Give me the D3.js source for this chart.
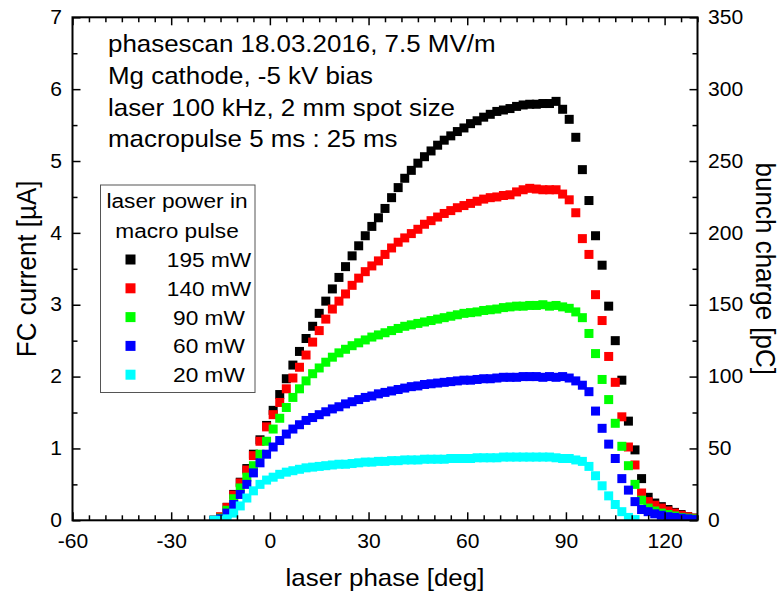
<!DOCTYPE html>
<meta charset="utf-8">
<script src="https://d3js.org/d3.v7.min.js"></script>
<style>
  body { margin: 0; background: #fff; }
  svg text { font-family: "Liberation Sans", Arial, sans-serif; fill: #000; }
</style>
<div id="my_dataviz"></div>
<script>

// laser phase [deg] of each measured point
var phase = [-17, -15, -13, -11, -9, -7, -5, -3, -1,
  1, 3, 5, 7, 9, 11, 13, 15, 17, 19, 21, 23, 25, 27, 29,
  31, 33, 35, 37, 39, 41, 43, 45, 47, 49, 51, 53, 55, 57, 59,
  61, 63, 65, 67, 69, 71, 73, 75, 77, 79, 81, 83, 85, 87, 89,
  91, 93, 95, 97, 99, 101, 103, 105, 107, 109, 111, 113, 115, 117, 119,
  121, 123, 125, 127, 129];

// FC current [uA] for each laser power
var fc195 = [0.00, 0.04, 0.18, 0.36, 0.53, 0.72, 0.92, 1.12, 1.32,
  1.53, 1.75, 1.97, 2.16, 2.35, 2.53, 2.70, 2.88, 3.05, 3.22, 3.38, 3.53, 3.68, 3.82, 3.96,
  4.09, 4.21, 4.34, 4.49, 4.63, 4.76, 4.87, 4.97, 5.06, 5.14, 5.22, 5.29, 5.35, 5.41, 5.46,
  5.52, 5.56, 5.61, 5.65, 5.69, 5.71, 5.73, 5.76, 5.78, 5.79, 5.79, 5.80, 5.80, 5.83, 5.72,
  5.58, 5.33, 4.88, 4.45, 3.96, 3.55, 2.98, 2.50, 1.95, 1.38, 0.98, 0.58, 0.32, 0.24, 0.19,
  0.15, 0.11, 0.08, 0.05, 0.03];
var fc140 = [0.00, 0.05, 0.18, 0.35, 0.52, 0.70, 0.90, 1.10, 1.30,
  1.47, 1.64, 1.83, 1.98, 2.13, 2.30, 2.48, 2.64, 2.80, 2.94, 3.05, 3.15, 3.27, 3.37, 3.46,
  3.54, 3.61, 3.70, 3.79, 3.87, 3.93, 3.99, 4.05, 4.12, 4.17, 4.22, 4.27, 4.31, 4.35, 4.38,
  4.41, 4.44, 4.47, 4.49, 4.50, 4.52, 4.53, 4.57, 4.60, 4.62, 4.61, 4.60, 4.60, 4.60, 4.54,
  4.46, 4.28, 3.92, 3.70, 3.14, 2.78, 2.28, 1.92, 1.44, 1.02, 0.77, 0.38, 0.26, 0.21, 0.17,
  0.13, 0.10, 0.07, 0.05, 0.03];
var fc90 = [0.00, 0.03, 0.14, 0.30, 0.45, 0.60, 0.76, 0.92, 1.10,
  1.27, 1.42, 1.57, 1.71, 1.83, 1.94, 2.04, 2.12, 2.20, 2.27, 2.33, 2.38, 2.43, 2.47, 2.51,
  2.55, 2.58, 2.61, 2.64, 2.67, 2.70, 2.72, 2.74, 2.76, 2.78, 2.80, 2.82, 2.84, 2.86, 2.88,
  2.89, 2.90, 2.92, 2.93, 2.94, 2.96, 2.97, 2.98, 2.98, 2.99, 2.99, 3.00, 2.98, 2.99, 2.97,
  2.95, 2.90, 2.82, 2.60, 2.32, 1.96, 1.68, 1.35, 1.03, 0.76, 0.50, 0.28, 0.17, 0.13, 0.10,
  0.08, 0.06, 0.04, 0.03, 0.02];
var fc60 = [0.00, 0.02, 0.10, 0.22, 0.36, 0.50, 0.66, 0.80, 0.92,
  1.02, 1.11, 1.20, 1.27, 1.33, 1.39, 1.43, 1.47, 1.51, 1.55, 1.58, 1.62, 1.65, 1.68, 1.71,
  1.73, 1.76, 1.78, 1.80, 1.82, 1.84, 1.86, 1.87, 1.89, 1.90, 1.91, 1.92, 1.93, 1.94, 1.95,
  1.95, 1.96, 1.97, 1.97, 1.98, 1.99, 1.99, 1.99, 2.00, 2.00, 2.00, 1.99, 2.00, 1.99, 2.00,
  1.98, 1.94, 1.88, 1.79, 1.52, 1.28, 1.06, 0.86, 0.58, 0.42, 0.26, 0.15, 0.12, 0.09, 0.07,
  0.05, 0.04, 0.03, 0.02, 0.01];
var fc20 = [0.00, 0.00, 0.02, 0.10, 0.20, 0.31, 0.41, 0.50, 0.56,
  0.60, 0.64, 0.67, 0.69, 0.71, 0.73, 0.74, 0.75, 0.76, 0.77, 0.78, 0.78, 0.79, 0.80, 0.81,
  0.81, 0.82, 0.82, 0.83, 0.83, 0.84, 0.84, 0.84, 0.85, 0.85, 0.85, 0.85, 0.86, 0.86, 0.86,
  0.86, 0.87, 0.87, 0.87, 0.87, 0.88, 0.88, 0.88, 0.88, 0.88, 0.88, 0.88, 0.88, 0.87, 0.86,
  0.86, 0.84, 0.82, 0.75, 0.62, 0.48, 0.34, 0.22, 0.12, 0.04, 0.01, null, null, null, null,
  null, null, null, null, null];

var seriesNames = ["195 mW", "140 mW", "90 mW", "60 mW", "20 mW"];
var seriesValues = [fc195, fc140, fc90, fc60, fc20];
var seriesColors = ["#000000", "#ff0000", "#00ff00", "#0000ff", "#00ffff"];

var xTicks = [-60, -30, 0, 30, 60, 90, 120];
var yTicks = [0, 1, 2, 3, 4, 5, 6, 7];
var y2Ticks = [0, 50, 100, 150, 200, 250, 300, 350];

var noteLines = ["phasescan 18.03.2016, 7.5 MV/m", "Mg cathode, -5 kV bias",
  "laser 100 kHz, 2 mm spot size", "macropulse 5 ms : 25 ms"];
var legendTitle = ["laser power in", "macro pulse"];

// the picture is a bit wider than tall, text is stretched the same way
var SX = 1.08;

var margin = {top: 17.3, right: 82.5, bottom: 73.7, left: 72.5},
  width = 780 - margin.left - margin.right,
  height = 594 - margin.top - margin.bottom;

var root = d3.select("#my_dataviz")
  .append("svg")
    .attr("width", 780)
    .attr("height", 594);

var svg = root.append("g")
  .attr("transform", "translate(" + margin.left + "," + margin.top + ")");

var x = d3.scaleLinear().domain([-60, 130]).range([0, width]);
var y = d3.scaleLinear().domain([0, 7]).range([height, 0]);
var y2 = d3.scaleLinear().domain([0, 350]).range([height, 0]);

function addText(parent, px, py, str, size, anchor, rot) {
  return parent.append("text")
    .attr("transform", "translate(" + px + "," + py + ") scale(" + SX + ",1)" + (rot ? " rotate(" + rot + ")" : ""))
    .attr("text-anchor", anchor || "start")
    .style("font-size", size + "px")
    .text(str);
}

function styleAxis(g, fontSize) {
  g.attr("font-size", null).attr("font-family", null);
  g.select(".domain").remove();
  g.selectAll("line").attr("stroke", "#000").attr("stroke-width", 1.5);
  g.selectAll("text").style("font-size", fontSize + "px").attr("transform", "scale(" + SX + ",1)");
}

// plain hyphen for negative numbers, like the original
var plain = function(d) { return String(d); };

// data points, clipped to the frame
svg.append("clipPath").attr("id", "clip")
  .append("rect").attr("width", width).attr("height", height);

var ms = 9;
var plot = svg.append("g").attr("clip-path", "url(#clip)");
seriesValues.forEach(function(vals, i) {
  var pts = phase.map(function(p, j) { return {p: p, v: vals[j]}; })
    .filter(function(d) { return d.v !== null; });
  plot.append("g")
    .attr("fill", seriesColors[i])
    .selectAll("rect")
    .data(pts)
    .enter()
    .append("rect")
      .attr("x", function(d) { return x(d.p) - ms / 2; })
      .attr("y", function(d) { return y(d.v) - ms / 2; })
      .attr("width", ms)
      .attr("height", ms);
});

// axes, ticks pointing inward
var minorX = d3.range(-60, 131, 5).filter(function(v) { return v % 30 !== 0; });
var minorY = d3.range(0.5, 7, 1);
var minorY2 = d3.range(25, 350, 50);

svg.append("g").attr("transform", "translate(0," + height + ")")
  .call(d3.axisBottom(x).tickValues(xTicks).tickSize(-8).tickPadding(13.5).tickFormat(plain))
  .call(styleAxis, 19.5);
svg.append("g").attr("transform", "translate(0," + height + ")")
  .call(d3.axisBottom(x).tickValues(minorX).tickSize(-5).tickFormat(""))
  .call(styleAxis, 19.5);
svg.append("g")
  .call(d3.axisTop(x).tickValues(xTicks).tickSize(-8).tickFormat(""))
  .call(styleAxis, 19.5);
svg.append("g")
  .call(d3.axisTop(x).tickValues(minorX).tickSize(-5).tickFormat(""))
  .call(styleAxis, 19.5);

svg.append("g")
  .call(d3.axisLeft(y).tickValues(yTicks).tickSize(-8).tickPadding(9.7).tickFormat(plain))
  .call(styleAxis, 19.5);
svg.append("g")
  .call(d3.axisLeft(y).tickValues(minorY).tickSize(-5).tickFormat(""))
  .call(styleAxis, 19.5);
svg.append("g").attr("transform", "translate(" + width + ",0)")
  .call(d3.axisRight(y2).tickValues(y2Ticks).tickSize(-8).tickPadding(9.7).tickFormat(plain))
  .call(styleAxis, 19.5);
svg.append("g").attr("transform", "translate(" + width + ",0)")
  .call(d3.axisRight(y2).tickValues(minorY2).tickSize(-5).tickFormat(""))
  .call(styleAxis, 19.5);

svg.append("rect")
  .attr("width", width)
  .attr("height", height)
  .attr("fill", "none")
  .attr("stroke", "#000")
  .attr("stroke-width", 2);

// axis titles
addText(root, margin.left + width / 2, 586, "laser phase [deg]", 24, "middle");
addText(root, 36, margin.top + height / 2, "FC current [\u00b5A]", 26, "middle", -90);
addText(root, 756, margin.top + height / 2, "bunch charge [pC]", 26, "middle", 90);

// annotation
noteLines.forEach(function(t, i) {
  addText(root, 108, 52 + i * 31.8, t, 24, "start");
});

// legend
var leg = root.append("g");
leg.append("rect")
  .attr("x", 100.5).attr("y", 185)
  .attr("width", 154.5).attr("height", 207.5)
  .attr("fill", "#fff")
  .attr("stroke", "#555")
  .attr("stroke-width", 1);
legendTitle.forEach(function(t, i) {
  addText(leg, 177, 208 + i * 30, t, 21, "middle");
});
seriesNames.forEach(function(n, i) {
  var cy = 259.5 + i * 28.8;
  leg.append("rect")
    .attr("x", 130.5 - 5).attr("y", cy - 5)
    .attr("width", 10).attr("height", 10)
    .attr("fill", seriesColors[i]);
  addText(leg, 209, cy + 7.5, n, 21, "middle");
});

</script>
